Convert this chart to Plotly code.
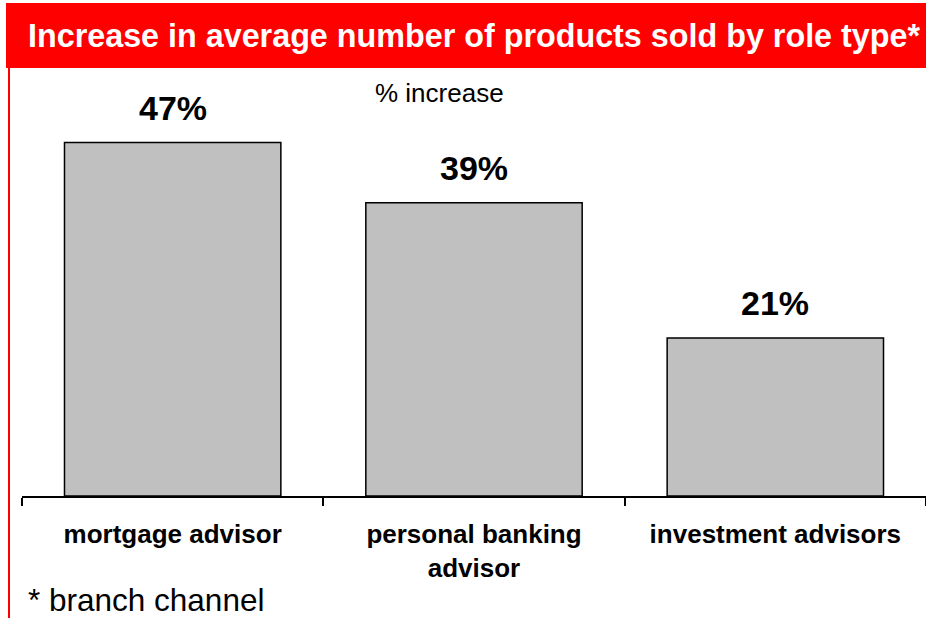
import plotly.graph_objects as go

# Data
roles = ["mortgage advisor", "personal banking<br>advisor", "investment advisors"]
increase_pct = [47, 39, 21]
value_labels = ["47%", "39%", "21%"]

title_text = "Increase in average number of products sold by role type*"
subtitle_text = "% increase"
footnote_text = "* branch channel"

W, H = 926, 618
ML, MR, MT, MB = 22, 0, 68, 122
PW, PH = W - ML - MR, H - MT - MB


def px_x(p):
    return (p - ML) / PW


def px_y(p):
    return (H - MB - p) / PH


fig = go.Figure()
fig.add_trace(go.Bar(
    x=roles,
    y=increase_pct,
    marker=dict(color="#C0C0C0", line=dict(color="black", width=1.5)),
    hoverinfo="skip",
))

annotations = []
for r, v, lab in zip(roles, increase_pct, value_labels):
    annotations.append(dict(
        x=r, y=v, xref="x", yref="y", text=f"<b>{lab}</b>", showarrow=False,
        yanchor="bottom", yshift=14,
        font=dict(family="Liberation Sans, Arial, sans-serif", size=34, color="black"),
    ))

annotations += [
    dict(x=px_x(474), y=px_y(36), xref="paper", yref="paper", text=f"<b>{title_text}</b>",
         showarrow=False, xanchor="center", yanchor="middle",
         font=dict(family="Liberation Sans, Arial, sans-serif", size=32.3, color="white")),
    dict(x=px_x(439), y=px_y(93), xref="paper", yref="paper", text=subtitle_text,
         showarrow=False, xanchor="center", yanchor="middle",
         font=dict(family="Liberation Sans, Arial, sans-serif", size=26, color="black")),
    dict(x=px_x(26), y=px_y(600), xref="paper", yref="paper", text=footnote_text,
         showarrow=False, xanchor="left", yanchor="middle",
         font=dict(family="Liberation Sans, Arial, sans-serif", size=31.5, color="black")),
]

shapes = [
    dict(type="rect", xref="paper", yref="paper",
         x0=px_x(6), x1=px_x(W + 2), y0=px_y(68), y1=px_y(3),
         fillcolor="#FF0000", line=dict(width=0), layer="below"),
    dict(type="line", xref="paper", yref="paper",
         x0=px_x(9), x1=px_x(9), y0=px_y(68), y1=px_y(H + 2),
         line=dict(color="#FF0000", width=2)),
]

fig.update_layout(
    width=W, height=H,
    margin=dict(l=ML, r=MR, t=MT, b=MB, pad=0),
    paper_bgcolor="white", plot_bgcolor="white",
    bargap=0.282,
    showlegend=False,
    annotations=annotations,
    shapes=shapes,
    xaxis=dict(
        showline=True, linecolor="black", linewidth=1.5,
        ticks="outside", ticklen=8, tickcolor="black", tickwidth=1.5,
        tickson="boundaries", showgrid=False,
        tickfont=dict(family="Liberation Sans, Arial, sans-serif", size=26, color="black"),
        tickprefix="<b>", ticksuffix="</b>",
        ticklabelstandoff=14,
    ),
    yaxis=dict(range=[0, PH / 7.52], visible=False, showgrid=False, zeroline=False),
)

fig.write_html("out.html")
